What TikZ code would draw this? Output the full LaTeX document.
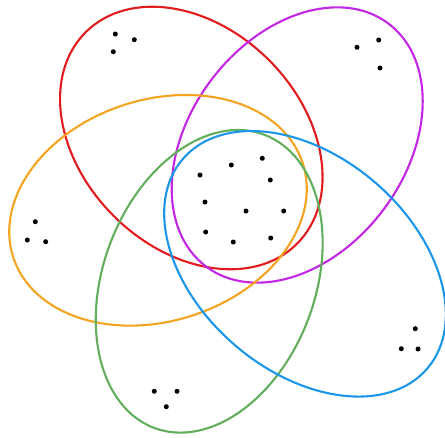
\documentclass[tikz,border=0pt]{standalone}
\definecolor{setred}{RGB}{226,28,30}
\definecolor{setmagenta}{RGB}{196,38,230}
\definecolor{setorange}{RGB}{244,164,32}
\definecolor{setgreen}{RGB}{98,174,92}
\definecolor{setblue}{RGB}{28,150,234}
\begin{document}
\begin{tikzpicture}[x=0.02cm,y=0.02cm,
    set/.style={line width=1.2pt},
    elem/.style={fill=black}]
    \useasboundingbox (0,0) rectangle (445,437);
    % the five sets
    \draw [set,setred,rotate around={-45:(191.3,299)}] (191.3,299) ellipse (149.5 and 110);
    \draw [set,setmagenta,rotate around={53.1:(297.2,292)}] (297.2,292) ellipse (151.9 and 107.8);
    \draw [set,setorange,rotate around={18:(158,226.7)}] (158,226.7) ellipse (152.2 and 110.7);
    \draw [set,setgreen,rotate around={69.5:(209.2,155.7)}] (209.2,155.7) ellipse (156.6 and 106);
    \draw [set,setblue,rotate around={-40.6:(305,173.2)}] (305,173.2) ellipse (161 and 107.4);
    % elements
    \foreach \p in {(200,262),(231.3,272),(262.3,278.7),(270.3,257),(205,235),
                    (246,226),(283.7,226),(205.7,205),(233.3,195),(270.7,199)}
        \fill [elem] \p circle (2.5);
    \foreach \p in {(115.3,403),(134.3,397.3),(113.3,385.3),
                    (357,389.7),(378.7,397),(380,369),
                    (35.3,215.3),(27.3,197),(45.7,195.3),
                    (415.3,108.3),(401.3,88.3),(418,88),
                    (154.3,45.7),(177,45.7),(166.3,30.3)}
        \fill [elem] \p circle (2.5);
\end{tikzpicture}
\end{document}
